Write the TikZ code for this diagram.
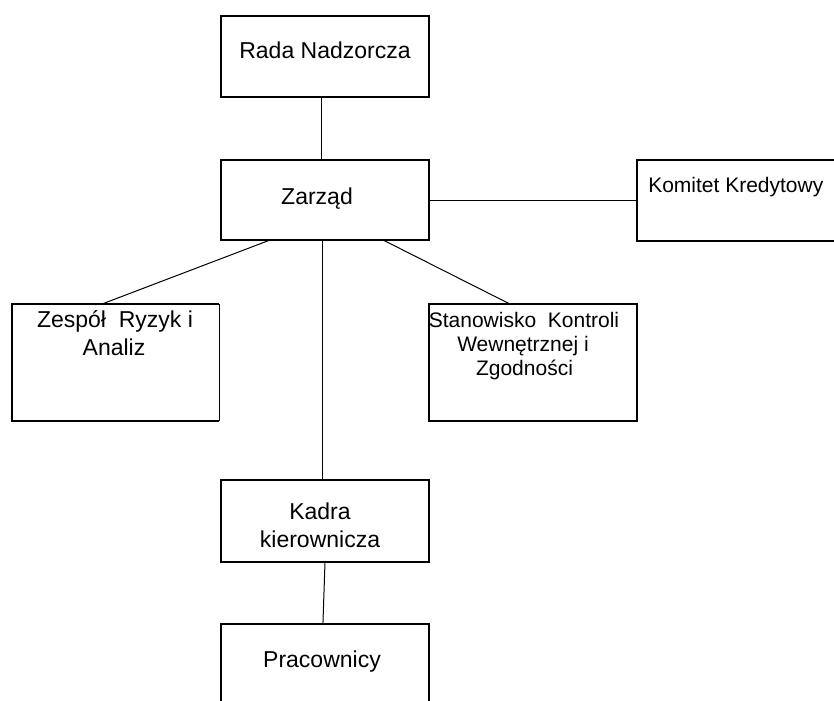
\documentclass[tikz,border=0pt]{standalone}
\usepackage{fontspec}
\setmainfont{Liberation Sans}
\usetikzlibrary{calc}
\begin{document}
\begin{tikzpicture}[x=0.75pt,y=-0.75pt,
  box/.style={draw, line width=1.75pt, inner sep=0pt, outer sep=0pt, anchor=north west},
  thickside/.style={line width=1.75pt, line join=miter},
  conn/.style={line width=0.75pt},
  bigtxt/.style={font=\fontsize{17.25}{21}\selectfont, anchor=base, inner sep=0pt},
  smalltxt/.style={font=\fontsize{15.75}{18}\selectfont, anchor=base, inner sep=0pt}]
\useasboundingbox (0,0) rectangle (834,700);
\clip (0,0) rectangle (834,700);
\fill[white] (0,0) rectangle (834,700);

% boxes
\node[box, minimum width=156pt, minimum height=60.75pt] (rada) at (221,16) {};
\node[box, minimum width=156pt, minimum height=60pt] (zarzad) at (221,160) {};
\node[box, minimum width=157.5pt, minimum height=60.75pt] (komitet) at (637,160) {};
\node[box, draw=none, minimum width=155.25pt, minimum height=87.75pt] (zespol) at (12,304) {};
\node[box, minimum width=156pt, minimum height=87.75pt] (stan) at (429,304) {};
\node[box, minimum width=156pt, minimum height=61.5pt] (kadra) at (221,480) {};
\node[box, minimum width=156pt, minimum height=75pt] (prac) at (221,624) {};

% Zespol box: thick sides, thin right side
\draw[thickside] (zespol.north east) -- (zespol.north west) -- (zespol.south west) -- (zespol.south east);
\draw[conn] (zespol.north east) -- (zespol.south east);

% connector end points
\coordinate (radaS) at ($(rada.south west)!0.481!(rada.south east)$);
\coordinate (zarN) at ($(zarzad.north west)!0.481!(zarzad.north east)$);
\coordinate (zarS1) at ($(zarzad.south west)!0.236!(zarzad.south east)$);
\coordinate (zarS2) at ($(zarzad.south west)!0.49!(zarzad.south east)$);
\coordinate (zarS3) at ($(zarzad.south west)!0.779!(zarzad.south east)$);
\coordinate (zesN) at ($(zespol.north west)!0.435!(zespol.north east)$);
\coordinate (stanN) at ($(stan.north west)!0.389!(stan.north east)$);
\coordinate (kadN) at ($(kadra.north west)!0.49!(kadra.north east)$);
\coordinate (kadS) at ($(kadra.south west)!0.5!(kadra.south east)$);
\coordinate (pracN) at ($(prac.north west)!0.49!(prac.north east)$);

% connectors
\draw[conn] (radaS) -- (zarN);
\draw[conn] (zarzad.east) -- (komitet.west |- zarzad.east);
\draw[conn] (zarS1) -- (zesN);
\draw[conn] (zarS2) -- (kadN);
\draw[conn] (zarS3) -- (stanN);
\draw[conn] (kadS) -- (pracN);

% texts
\node[bigtxt] (radaT) at (325,58) {Rada Nadzorcza};
\node[bigtxt] (zarT) at (317,204) {Zarząd};
\node[smalltxt, anchor=base west] (komT) at (648,192) {Komitet Kredytowy};
\node[bigtxt] (zesT1) at (115,327) {Zespół\ \ Ryzyk i};
\node[bigtxt] (zesT2) at (114,355) {Analiz};
\node[smalltxt] (stT1) at (524,327) {Stanowisko\ \ Kontroli};
\node[smalltxt] (stT2) at (523,351) {Wewnętrznej i};
\node[smalltxt] (stT3) at (524.5,375) {Zgodności};
\node[bigtxt] (kaT1) at (320,519) {Kadra};
\node[bigtxt] (kaT2) at (320,547) {kierownicza};
\node[bigtxt] (prT) at (322,667) {Pracownicy};
\end{tikzpicture}
\end{document}
